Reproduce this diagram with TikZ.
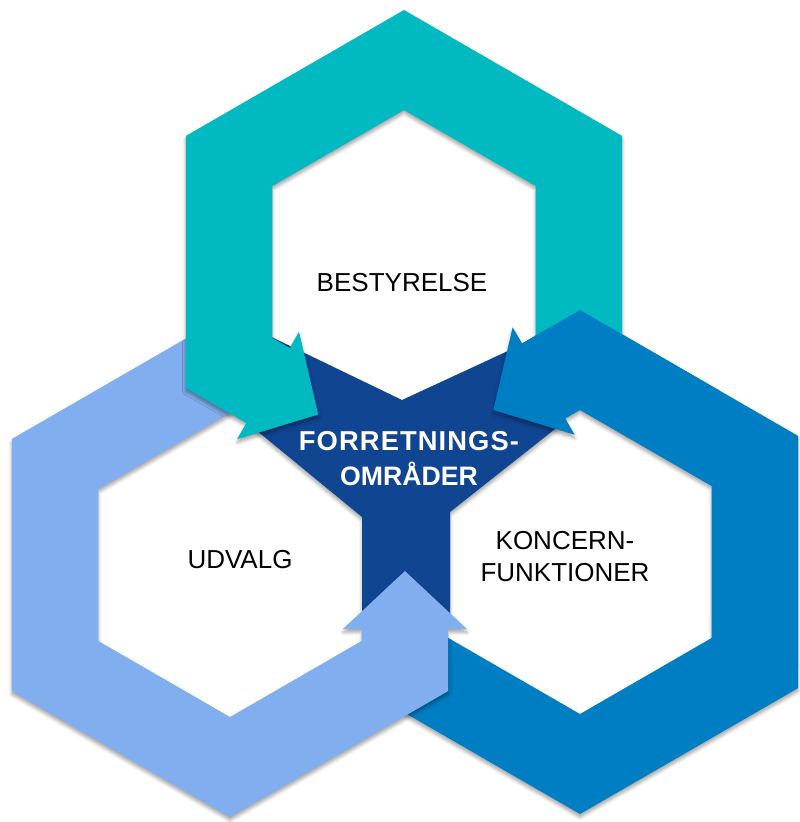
\documentclass[tikz,border=0pt]{standalone}
\usepackage{fontspec}
\setmainfont{Liberation Sans}
\usetikzlibrary{shadows.blur}
\definecolor{tealc}{RGB}{0,185,193}
\definecolor{bluec}{RGB}{0,126,196}
\definecolor{lightc}{RGB}{128,174,238}
\definecolor{navyc}{RGB}{16,69,146}

% #1 prefix, #2 cx, #3 cy (canvas), #4 rotation, #5 shaft length
\newcommand{\ringcoords}[5]{%
 \begin{scope}[shift={(#2,#3)}, rotate=#4]
  \coordinate (#1-1) at (218.24,-118);
  \coordinate (#1-2) at (218.24,126);
  \coordinate (#1-3) at (0,252);
  \coordinate (#1-4) at (-218.24,126);
  \coordinate (#1-5) at (-218.24,-126);
  \coordinate (#1-6) at ({-196.58+0.866*#5},{-138.5-0.5*#5});
  \coordinate (#1-7) at ({-205.93+0.866*#5},{-154.69-0.5*#5});
  \coordinate (#1-8) at ({-124.70+0.866*#5},{-130-0.5*#5});
  \coordinate (#1-9) at ({-143.93+0.866*#5},{-47.31-0.5*#5});
  \coordinate (#1-10) at ({-153.28+0.866*#5},{-63.5-0.5*#5});
  \coordinate (#1-11) at (-131.64,-76);
  \coordinate (#1-12) at (-131.64,76);
  \coordinate (#1-13) at (0,152);
  \coordinate (#1-14) at (131.64,76);
  \coordinate (#1-15) at (131.64,-118);
 \end{scope}}
\newcommand{\ringfill}[2]{%
 \fill[#1] (#2-1) -- (#2-2) -- (#2-3) -- (#2-4) -- (#2-5) -- (#2-6) -- (#2-7)
  -- (#2-8) -- (#2-9) -- (#2-10) -- (#2-11) -- (#2-12) -- (#2-13) -- (#2-14)
  -- (#2-15) -- cycle;}

\tikzset{
 shad/.style={blur shadow={shadow xshift=0pt, shadow yshift=-2.5pt,
   shadow blur radius=2.5pt, shadow opacity=35}},
 lbl/.style={text=black, font=\fontsize{19.5pt}{22pt}\selectfont, inner sep=0pt},
 ctr/.style={text=white, font=\fontsize{20pt}{22pt}\selectfont\bfseries, inner sep=0pt}
}

\begin{document}
\begin{tikzpicture}[x=0.75pt, y=0.75pt]
\useasboundingbox (0,0) rectangle (800,-822);

\ringcoords{T}{404}{-262}{0}{45}
\ringcoords{B}{580}{-562}{-120}{42}
\ringcoords{L}{230}{-565}{120}{37}

% centre shape
\fill[navyc, shad] (268,-335.3) -- (402,-400) -- (515,-347.7) -- (560,-425)
  -- (450,-512) -- (450,-624) -- (362,-624) -- (362,-517) -- (250,-425) -- cycle;

\ringfill{bluec, shad}{B}
\ringfill{lightc, shad}{L}
\ringfill{tealc, shad}{T}
\begin{scope}
 \clip (515,-300) rectangle (720,-400);
 \ringfill{bluec}{B}
\end{scope}

\node[lbl, anchor=base] (best) at (402,-291) {BESTYRELSE};
\node[ctr, anchor=base] (forr) at (409,-450)
  {\fontsize{20.5pt}{22pt}\selectfont\addfontfeature{LetterSpace=4}FORRETNINGS-};
\node[ctr, anchor=base] (omr) at (409,-485) {OMRÅDER};
\node[lbl, anchor=base] (udv) at (240,-568) {UDVALG};
\node[lbl, anchor=base] (kon) at (565,-549.5) {KONCERN-};
\node[lbl, anchor=base] (fun) at (565,-581) {FUNKTIONER};
\end{tikzpicture}
\end{document}
